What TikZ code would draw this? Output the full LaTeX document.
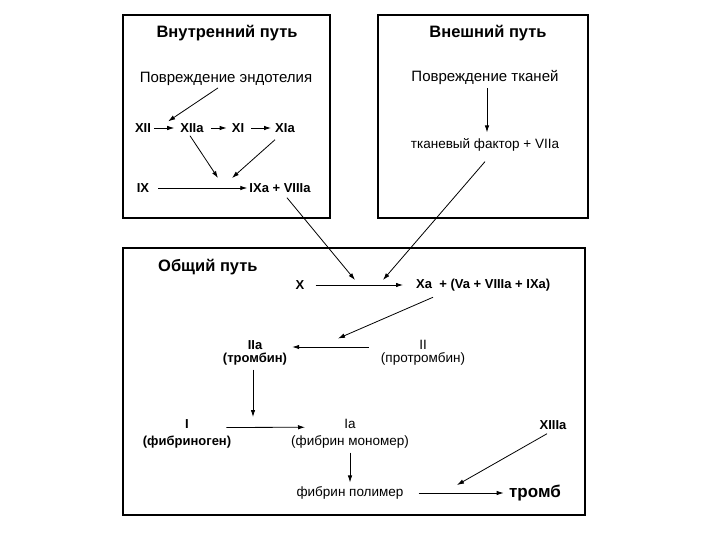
\documentclass[tikz,border=0pt]{standalone}
\usepackage{fontspec}
\setmainfont{Liberation Sans}
\usetikzlibrary{arrows.meta,positioning,calc}
\tikzset{
  arr/.style={-{Latex[length=7pt,width=4.5pt]}, line width=0.8pt},
  panel/.style={draw, line width=1.2pt},
  lbl/.style={font=\fontsize{13.5}{13}\selectfont, inner sep=1pt, align=center},
  blbl/.style={font=\bfseries\fontsize{13}{13}\selectfont, inner sep=1pt, align=center},
  dmg/.style={font=\fontsize{15}{16}\selectfont, inner sep=1pt},
  head/.style={font=\bfseries\fontsize{16.5}{18}\selectfont, inner sep=1pt}
}

\begin{document}
\begin{tikzpicture}[x=1pt,y=-1pt]
\useasboundingbox[fill=white] (0,0) rectangle (720,540);

% Panels
\draw[panel] (123,15) rectangle (330,218);
\draw[panel] (378,15) rectangle (588,218);
\draw[panel] (123,248) rectangle (585,515);

% Intrinsic pathway
\node[head] (inthead) at (227,33) {Внутренний путь};
\node[dmg] (endo) at (226,79) {Повреждение эндотелия};
\node[blbl] (xii) at (143,128) {XII};
\node[blbl] (xiia) at (192,128) {XIIa};
\node[blbl] (xi) at (238,128) {XI};
\node[blbl] (xia) at (285,128) {XIa};
\node[blbl] (ix) at (143,188) {IX};
\node[blbl] (ixa) at (280,188) {IXa + VIIIa};

% Extrinsic pathway
\node[head] (exthead) at (488,33) {Внешний путь};
\node[dmg] (tiss) at (485,77) {Повреждение тканей};
\node[lbl] (tf) at (485,145) {тканевый фактор + VIIa};

% Common pathway
\node[head, anchor=west] (comhead) at (157,267) {Общий путь};
\node[blbl] (x) at (300,285) {X};
\node[blbl, anchor=west] (xa) at (415,285) {Xa \ + (Va + VIIIa + IXa)};
\node[blbl] (iia) at (255,353) {IIa\\(тромбин)};
\node[lbl] (ii) at (423,353) {II\\(протромбин)};
\node[blbl] (fbg) at (187,434) {I\\[4pt](фибриноген)};
\node[lbl] (ia) at (350,434) {Ia\\[4pt](фибрин мономер)};
\node[lbl] (poly) at (350,493) {фибрин полимер};
\node[font=\bfseries\fontsize{17}{18}\selectfont] (clot) at (535,493) {тромб};
\node[blbl] (xiiia) at (553,425) {XIIIa};

% Junction points on the arrows
\coordinate (jint) at (218,178);
\coordinate (jint2) at (232,178);
\coordinate (jx) at (355,280);
\coordinate (jx2) at (383,280);
\coordinate (jia) at (253,417);
\coordinate (jclot) at (457,485);

% Intrinsic arrows
\draw[arr] ($(endo.south)+(-8,1)$) -- ($(xii.north east)+(16,-1)$);
\draw[arr] ($(xii.east)+(2,0)$) -- ($(xiia.west)+(-5,0)$);
\draw[arr] ($(xiia.east)+(6,0)$) -- ($(xi.west)+(-4,0)$);
\draw[arr] ($(xi.east)+(6,0)$) -- ($(xia.west)+(-3,0)$);
\draw[arr] ($(xiia.south)+(-2,2)$) -- (jint);
\draw[arr] ($(xia.south)+(-10,6)$) -- (jint2);
\draw[arr] ($(ix.east)+(8,0)$) -- ($(ixa.west)+(-1,0)$);

% Extrinsic arrow
\draw[arr] ($(tiss.south)+(2,3)$) -- ($(tf.north)+(2,-5)$);

% Into common pathway
\draw[arr] ($(ixa.south)+(7,4)$) -- (jx);
\draw[arr] ($(tf.south)+(0,9)$) -- (jx2);

% Common arrows
\draw[arr] ($(x.east)+(10,0)$) -- ($(xa.west)+(-12,0)$);
\draw[arr] ($(xa.south west)+(18,5)$) -- ($(iia.north)+(83,-1)$);
\draw[arr] ($(ii.west)+(-11,-6)$) -- ($(iia.east)+(4,-6)$);
\draw[arr] ($(iia.south)+(-2,3)$) -- (jia);
\draw[arr] ($(fbg.north east)+(-6,9)$) -- ($(ia.north)+(-45,9)$);
\draw[arr] ($(ia.south)+(0,3)$) -- ($(poly.north)+(0,-3)$);
\draw[arr] ($(poly.east)+(14,0)$) -- ($(clot.west)+(-2,0)$);
\draw[arr] ($(xiiia.south)+(-6,3)$) -- (jclot);
\end{tikzpicture}
\end{document}
